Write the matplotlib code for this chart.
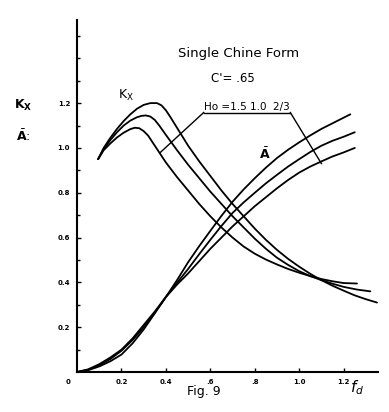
import numpy as np
import matplotlib.pyplot as plt

# Kx curves (Ho = 1.5, 1.0, 2/3)
kx_x_15 = [0.095, 0.12, 0.15, 0.18, 0.21, 0.24, 0.27, 0.30, 0.33, 0.36, 0.38, 0.40, 0.42, 0.45,
           0.5, 0.55, 0.6, 0.65, 0.7, 0.75, 0.8, 0.85, 0.9, 0.95, 1.0, 1.05, 1.1, 1.15, 1.2, 1.25, 1.3, 1.35]
kx_y_15 = [0.95, 1.0, 1.045, 1.085, 1.12, 1.15, 1.175, 1.192, 1.20, 1.20, 1.19, 1.168, 1.138, 1.09,
           1.01, 0.94, 0.875, 0.81, 0.75, 0.695, 0.64, 0.59, 0.545, 0.505, 0.47, 0.438, 0.41, 0.385, 0.363, 0.342, 0.325, 0.31]

kx_x_10 = [0.095, 0.12, 0.15, 0.18, 0.21, 0.24, 0.27, 0.29, 0.31, 0.33, 0.35, 0.37, 0.40, 0.45,
           0.5, 0.55, 0.6, 0.65, 0.7, 0.75, 0.8, 0.85, 0.9, 0.95, 1.0, 1.05, 1.1, 1.15, 1.2, 1.26, 1.32]
kx_y_10 = [0.95, 0.995, 1.035, 1.07, 1.1, 1.122, 1.137, 1.143, 1.145, 1.14, 1.125, 1.1, 1.058, 0.99,
           0.925, 0.865, 0.805, 0.75, 0.695, 0.645, 0.595, 0.55, 0.51, 0.478, 0.45, 0.428, 0.41, 0.394, 0.38, 0.368, 0.36]

kx_x_23 = [0.095, 0.12, 0.15, 0.18, 0.21, 0.24, 0.26, 0.28, 0.30, 0.32, 0.35, 0.4, 0.45,
           0.5, 0.55, 0.6, 0.65, 0.7, 0.75, 0.8, 0.85, 0.9, 0.95, 1.0, 1.05, 1.1, 1.15, 1.2, 1.26]
kx_y_23 = [0.95, 0.99, 1.02, 1.047, 1.068, 1.084, 1.09, 1.088, 1.075, 1.055, 1.01, 0.935, 0.87,
           0.81, 0.75, 0.695, 0.645, 0.6, 0.56, 0.528, 0.502, 0.48, 0.46, 0.443, 0.428, 0.415, 0.405, 0.397, 0.395]

# A-bar curves
a_x_15 = [0.0, 0.05, 0.1, 0.15, 0.2, 0.25, 0.3, 0.35, 0.4, 0.45, 0.5, 0.55, 0.6, 0.65, 0.7, 0.75,
          0.8, 0.85, 0.9, 0.95, 1.0, 1.05, 1.1, 1.15, 1.2, 1.23]
a_y_15 = [0.0, 0.01, 0.03, 0.058, 0.095, 0.143, 0.20, 0.265, 0.335, 0.41, 0.49, 0.562, 0.63, 0.697,
          0.76, 0.815, 0.865, 0.912, 0.955, 0.992, 1.025, 1.056, 1.085, 1.11, 1.135, 1.15]

a_x_10 = [0.0, 0.05, 0.1, 0.15, 0.2, 0.25, 0.3, 0.35, 0.4, 0.45, 0.5, 0.55, 0.6, 0.65, 0.7, 0.75,
          0.8, 0.85, 0.9, 0.95, 1.0, 1.05, 1.1, 1.15, 1.2, 1.25]
a_y_10 = [0.0, 0.012, 0.035, 0.065, 0.10, 0.15, 0.21, 0.27, 0.335, 0.398, 0.46, 0.526, 0.59, 0.652,
          0.71, 0.757, 0.80, 0.842, 0.88, 0.917, 0.95, 0.982, 1.01, 1.032, 1.05, 1.07]

a_x_23 = [0.0, 0.05, 0.1, 0.15, 0.2, 0.25, 0.3, 0.35, 0.4, 0.45, 0.5, 0.55, 0.6, 0.65, 0.7, 0.75,
          0.8, 0.85, 0.9, 0.95, 1.0, 1.05, 1.1, 1.15, 1.2, 1.25]
a_y_23 = [0.0, 0.008, 0.025, 0.048, 0.078, 0.128, 0.19, 0.262, 0.335, 0.39, 0.44, 0.495, 0.55, 0.6,
          0.65, 0.695, 0.74, 0.78, 0.82, 0.857, 0.89, 0.917, 0.94, 0.962, 0.98, 1.0]

x_ticks = [0.2, 0.4, 0.6, 0.8, 1.0, 1.2]
x_labels = ['0.2', '0.4', '.6', '.8', '1.0', '1.2']
y_ticks = [0.2, 0.4, 0.6, 0.8, 1.0, 1.2]
y_labels = ['0.2', '0.4', '0.6', '0.8', '1.0', '1.2']

fig = plt.figure(figsize=(3.89, 4.12), dpi=100)
ax = fig.add_axes([0.198, 0.097, 0.774, 0.854])

lw = 1.3
for xs, ys in [(kx_x_15, kx_y_15), (kx_x_10, kx_y_10), (kx_x_23, kx_y_23),
               (a_x_15, a_y_15), (a_x_10, a_y_10), (a_x_23, a_y_23)]:
    ax.plot(xs, ys, color='black', lw=lw, solid_capstyle='round', solid_joinstyle='round')

ax.set_xlim(0, 1.355)
ax.set_ylim(0, 1.57)

for s in ['top', 'right']:
    ax.spines[s].set_visible(False)
ax.spines['left'].set_linewidth(1.5)
ax.spines['bottom'].set_linewidth(1.5)

ax.set_xticks(x_ticks)
ax.set_xticklabels(x_labels, fontsize=5, fontweight='bold')
ax.set_yticks(y_ticks)
ax.set_yticklabels(y_labels, fontsize=5, fontweight='bold')
ax.set_yticks(np.arange(0.1, 1.55, 0.1), minor=True)
ax.tick_params(axis='both', direction='in', length=3, width=1, pad=5)
ax.tick_params(axis='y', which='minor', direction='in', length=2.5, width=1)

# labels
ax.text(-0.03, -0.03, '0', fontsize=5, fontweight='bold', ha='right', va='top')
ax.text(-0.24, 1.19, r'$\mathbf{K_X}$', fontsize=9, ha='center', va='center')
ax.text(-0.24, 1.05, r'$\bar{\mathbf{A}}$:', fontsize=9, ha='center', va='center')
ax.text(1.26, -0.07, r'$f_d$', fontsize=11, ha='center', va='center')
ax.text(0.57, -0.085, 'Fig. 9', fontsize=9, ha='center', va='center')

ax.text(0.725, 1.42, 'Single Chine Form', fontsize=9.5, ha='center', va='center')
ax.text(0.70, 1.31, "C'= .65", fontsize=8.5, ha='center', va='center')
ax.text(0.22, 1.235, r'$\mathrm{K_X}$', fontsize=9, ha='center', va='center')
ax.text(0.845, 0.97, r'$\bar{\mathbf{A}}$', fontsize=9, ha='center', va='center')
ax.text(0.765, 1.162, 'Ho =1.5 1.0  2/3', fontsize=7.5, ha='center', va='bottom')

# annotation leaders
ax.plot([0.57, 0.96], [1.158, 1.158], color='black', lw=1.0)
ax.plot([0.57, 0.375], [1.158, 0.98], color='black', lw=1.0)
ax.plot([0.96, 1.10], [1.158, 0.93], color='black', lw=1.0)

fig.savefig('out.png', dpi=100, facecolor='white')
